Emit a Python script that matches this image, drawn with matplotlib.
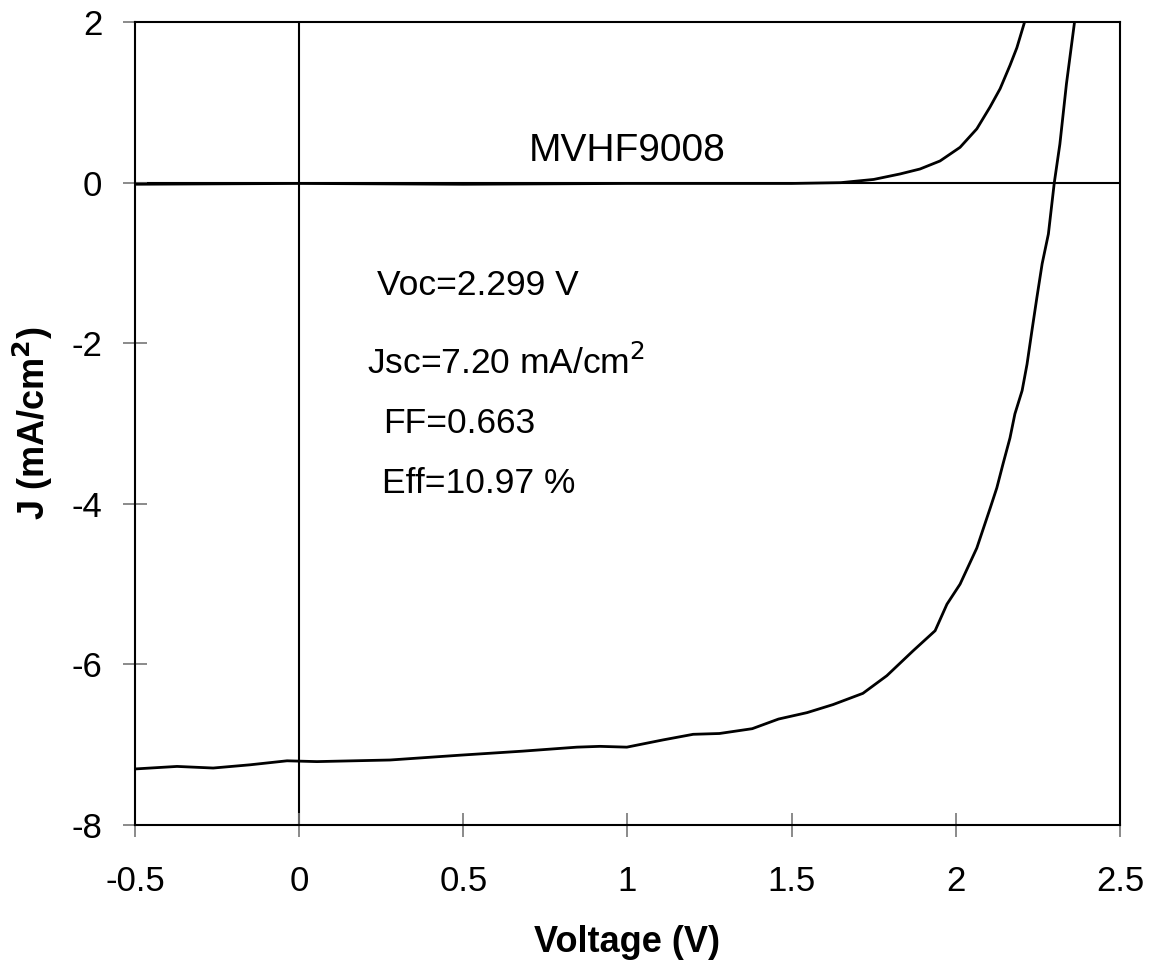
import matplotlib
matplotlib.use("Agg")
import matplotlib.pyplot as plt
import numpy as np

plt.rcParams['font.family'] = ['Liberation Sans', 'DejaVu Sans']
plt.rcParams['axes.unicode_minus'] = False

# illuminated J-V curve
v_light = [-0.494, -0.372, -0.262, -0.15, -0.037, 0.054, 0.277, 0.49, 0.68, 0.846,
           0.916, 0.998, 1.108, 1.2, 1.28, 1.38, 1.46, 1.547, 1.626, 1.717,
           1.79, 1.87, 1.937, 1.973, 2.013, 2.064, 2.105, 2.125, 2.144, 2.165,
           2.18, 2.202, 2.217, 2.232, 2.247, 2.263, 2.282, 2.30, 2.317, 2.337, 2.361]
j_light = [-7.30, -7.27, -7.29, -7.25, -7.20, -7.21, -7.19, -7.13, -7.08, -7.03,
           -7.02, -7.03, -6.94, -6.87, -6.86, -6.80, -6.68, -6.60, -6.50, -6.36,
           -6.14, -5.83, -5.58, -5.25, -5.00, -4.55, -4.05, -3.80, -3.50, -3.18,
           -2.88, -2.59, -2.26, -1.84, -1.43, -1.01, -0.64, 0.0, 0.48, 1.23, 1.98]

# dark J-V curve
v_dark = [-0.5, 0.0, 0.5, 1.0, 1.5, 1.65, 1.75, 1.83, 1.891, 1.952, 2.013, 2.064,
          2.104, 2.135, 2.165, 2.186, 2.208]
j_dark = [-0.02, -0.01, -0.02, -0.01, -0.01, 0.0, 0.04, 0.108, 0.17, 0.27, 0.44, 0.67,
          0.94, 1.17, 1.46, 1.68, 1.98]

fig = plt.figure(figsize=(11.54, 9.67), dpi=100)
ax = fig.add_axes([0.117, 0.1468, 0.8535, 0.8304])

ax.axhline(0, color='black', lw=1.5, zorder=1)
ax.axvline(0, color='black', lw=1.5, zorder=1)
ax.plot(v_light, j_light, color='black', lw=2.0)
ax.plot(v_dark, j_dark, color='black', lw=2.0)

ax.set_xlim(-0.5, 2.5)
ax.set_ylim(-8, 2)
ax.set_xticks(np.arange(-0.5, 2.51, 0.5))
ax.set_xticklabels(['-0.5', '0', '0.5', '1', '1.5', '2', '2.5'])
ax.set_yticks([-8, -6, -4, -2, 0, 2])

for s in ax.spines.values():
    s.set_linewidth(1.5)
ax.tick_params(direction='inout', length=17, width=1.2, color='#777777', labelsize=25)
ax.tick_params(axis='x', pad=20)
ax.tick_params(axis='y', pad=15)

ax.set_xlabel('Voltage (V)', fontsize=26, fontweight='bold', labelpad=20)
ax.set_ylabel('J (mA/cm$^\\mathbf{2}$)', fontsize=26, fontweight='bold', labelpad=12)

ax.text(1.0, 0.39, 'MVHF9008', fontsize=28, ha='center', va='center')
ax.text(0.237, -1.28, 'Voc=2.299 V', fontsize=25.5, va='center')
ax.text(0.207, -2.25, 'Jsc=7.20 mA/cm$^2$', fontsize=25.5, va='center')
ax.text(0.255, -3.0, 'FF=0.663', fontsize=25.5, va='center')
ax.text(0.252, -3.75, 'Eff=10.97 %', fontsize=25.5, va='center')

fig.savefig('out.png', dpi=100)
